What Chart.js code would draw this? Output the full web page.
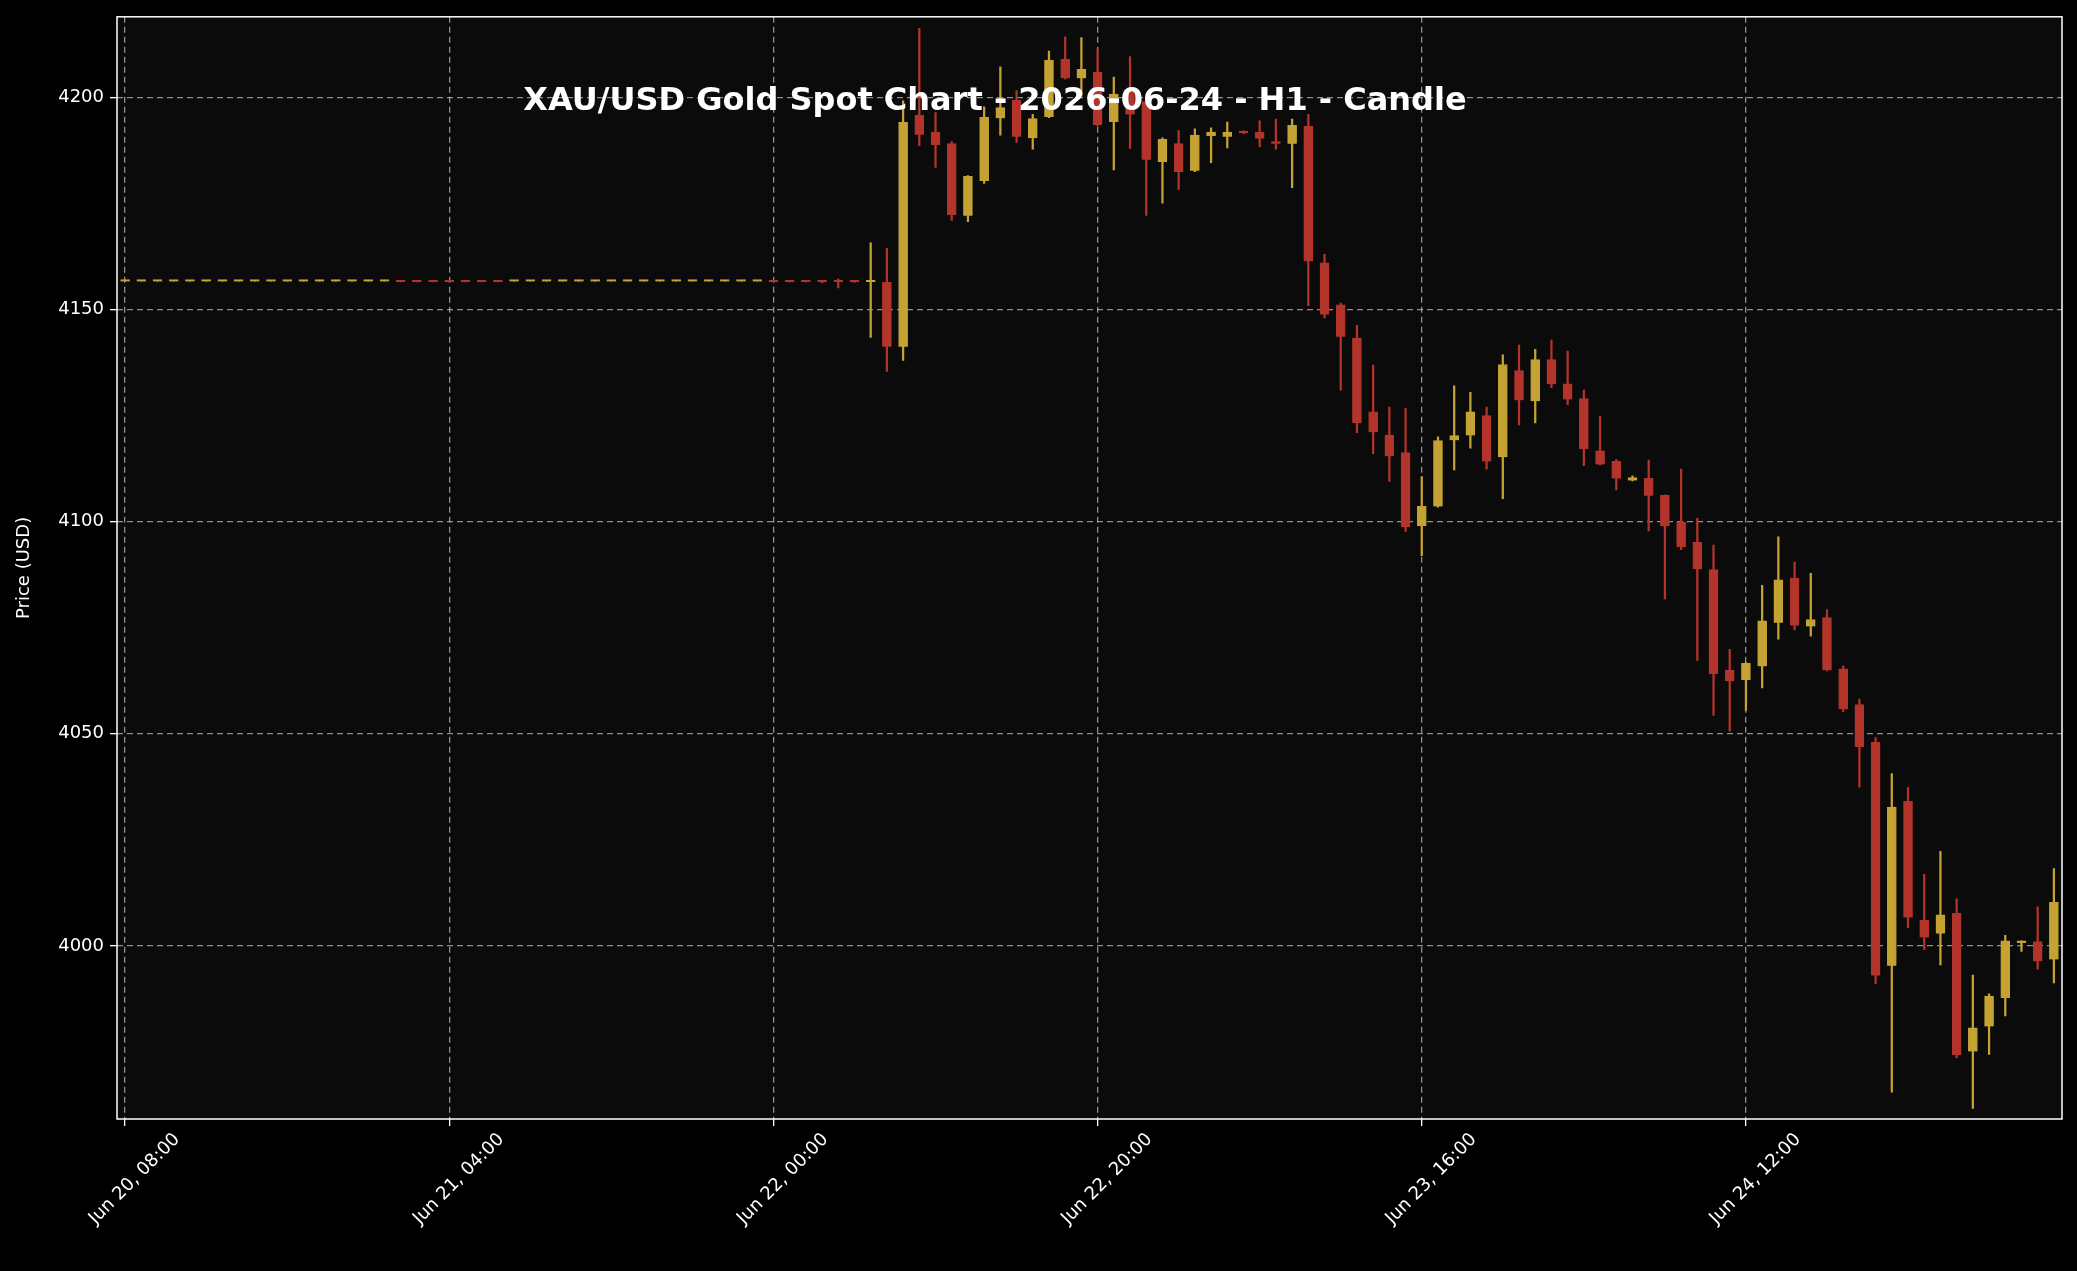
<!DOCTYPE html>
<html><head><meta charset="utf-8">
<script src="https://cdn.jsdelivr.net/npm/chart.js@4.4.1/dist/chart.umd.min.js"></script>
<style>html,body{margin:0;padding:0;background:#000;}#wrap{width:2077px;height:1271px;}</style>
</head><body><div id="wrap"><canvas id="c"></canvas></div>
<script>
const TITLE = "XAU/USD Gold Spot Chart - 2026-06-24 - H1 - Candle";
const tickHours = [0, 20, 40, 60, 80, 100];
const tickLabels = ["Jun 20, 08:00", "Jun 21, 04:00", "Jun 22, 00:00", "Jun 22, 20:00", "Jun 23, 16:00", "Jun 24, 12:00"];
const priceTicks = [4000, 4050, 4100, 4150, 4200];
const hours = [0,1,2,3,4,5,6,7,8,9,10,11,12,13,14,15,16,17,18,19,20,21,22,23,24,25,26,27,28,29,30,31,32,33,34,35,36,37,38,39,40,41,42,43,44,45,46,47,48,49,50,51,52,53,54,55,56,57,58,59,60,61,62,63,64,65,66,67,68,69,70,71,72,73,74,75,76,77,78,79,80,81,82,83,84,85,86,87,88,89,90,91,92,93,94,95,96,97,98,99,100,101,102,103,104,105,106,107,108,109,110,111,112,113,114,115,116,117,118,119];
const open = [4156.6,4156.6,4156.6,4156.6,4156.6,4156.6,4156.6,4156.6,4156.6,4156.6,4156.6,4156.6,4156.6,4156.6,4156.6,4156.6,4156.6,4156.7,4156.7,4156.7,4156.7,4156.7,4156.7,4156.7,4156.6,4156.6,4156.6,4156.6,4156.6,4156.6,4156.6,4156.6,4156.6,4156.6,4156.6,4156.6,4156.6,4156.6,4156.6,4156.6,4156.7,4156.7,4156.7,4156.7,4156.7,4156.7,
4156.5,4156.4,4141.2,4195.8,4191.8,4189.1,4172.1,4180.3,4195.1,4199.3,4190.4,4195.4,4209,4204.5,4205.9,4194.2,4201.4,4199,4184.8,4189.1,4182.7,4190.9,4190.7,4192,4191.8,4189.6,4189.1,4193.2,4161,4151.1,4143.3,4125.9,4120.4,4116.3,4099,4103.6,4119.2,4120.3,4125,4115.2,4135.6,4128.4,4138.2,4132.5,4129,4116.7,4114.2,4109.7,4110.2,4106.2,4099.9,4095.1,4088.7,4065,4062.7,4065.9,4076.2,4086.7,4075.3,4077.4,4065.3,4056.9,4048,3995.4,4034.1,4006,4002.9,4007.7,3975.1,3981,3987.7,4000.7,4001,3996.8];
const high = [4156.6,4156.6,4156.6,4156.6,4156.6,4156.6,4156.6,4156.6,4156.6,4156.6,4156.6,4156.6,4156.6,4156.6,4156.6,4156.6,4156.6,4156.7,4156.7,4156.7,4156.7,4156.7,4156.7,4156.7,4156.6,4156.6,4156.6,4156.6,4156.6,4156.6,4156.6,4156.6,4156.6,4156.6,4156.6,4156.6,4156.6,4156.6,4156.6,4156.6,4156.7,4156.7,4156.7,4156.9,4157.2,4156.8,
4165.7,4164.4,4199.2,4216.3,4196.4,4189.6,4181.6,4197.8,4207.2,4201.6,4196,4210.9,4214.3,4214.1,4211.4,4204.8,4209.6,4199.3,4190.5,4192.2,4192.6,4192.8,4194.2,4192.1,4194.5,4194.9,4194.9,4196,4163,4151.5,4146.3,4136.9,4127,4126.7,4110.6,4120,4132,4130.5,4127,4139.3,4141.6,4140.6,4142.8,4140.2,4131,4124.9,4114.7,4110.8,4114.5,4106.3,4112.4,4100.8,4094.5,4069.9,4066.8,4085,4096.4,4090.5,4087.8,4079.3,4066,4058.2,4049.1,4040.6,4037.3,4016.9,4022.3,4011.1,3993.1,3988.7,4002.5,4001.2,4009.2,4018.2];
const low = [4156.6,4156.6,4156.6,4156.6,4156.6,4156.6,4156.6,4156.6,4156.6,4156.6,4156.6,4156.6,4156.6,4156.6,4156.6,4156.6,4156.6,4156.5,4156.5,4156.5,4156.5,4156.5,4156.5,4156.5,4156.6,4156.6,4156.6,4156.6,4156.6,4156.6,4156.6,4156.6,4156.6,4156.6,4156.6,4156.6,4156.6,4156.6,4156.6,4156.6,4156.5,4156.5,4156.5,4156.3,4155.1,4156.4,
4143.4,4135.4,4138,4188.6,4183.5,4171,4170.7,4179.7,4191.1,4189.4,4187.8,4195.2,4204.3,4200.6,4193.3,4182.9,4188,4172.2,4175.1,4178.3,4182.5,4184.6,4188.1,4191.4,4188.4,4187.8,4178.7,4150.9,4148,4131,4121,4116,4109.5,4097.7,4092,4103.4,4112.2,4117.3,4112.4,4105.4,4122.8,4123.3,4131.6,4127.6,4113.2,4113.4,4107.5,4109.6,4097.8,4081.8,4093.4,4067.3,4054.3,4050.6,4055.5,4060.8,4072.3,4074.5,4073,4064.8,4055.2,4037.4,3991.1,3965.5,4004.3,3999.1,3995.5,3973.6,3961.7,3974.4,3983.5,3998.7,3994.5,3991.3];
const close = [4156.6,4156.6,4156.6,4156.6,4156.6,4156.6,4156.6,4156.6,4156.6,4156.6,4156.6,4156.6,4156.6,4156.6,4156.6,4156.6,4156.6,4156.5,4156.5,4156.5,4156.5,4156.5,4156.5,4156.5,4156.6,4156.6,4156.6,4156.6,4156.6,4156.6,4156.6,4156.6,4156.6,4156.6,4156.6,4156.6,4156.6,4156.6,4156.6,4156.6,4156.5,4156.5,4156.5,4156.5,4156.5,4156.5,
4156.7,4141.2,4194.1,4191.2,4188.8,4172.3,4181.4,4195.3,4197.6,4190.7,4195,4208.8,4204.5,4206.6,4193.5,4200.8,4196,4185.3,4190.1,4182.4,4191.1,4191.8,4191.8,4191.6,4190.3,4189.1,4193.4,4161.4,4148.8,4143.6,4123.2,4121.1,4115.4,4098.7,4103.6,4119.1,4120.3,4125.9,4114.2,4137,4128.6,4138.2,4132.4,4128.8,4117.1,4113.5,4110.2,4110.4,4106.1,4098.9,4094,4088.8,4064.1,4062.4,4066.6,4076.6,4086.3,4075.5,4076.9,4065,4055.8,4046.9,3993,4032.7,4006.7,4002,4007.3,3974.3,3980.7,3988.2,4001.2,4001,3996.4,4010.3];

const UP = '#c4a334', DOWN = '#b2342a';
const cols = hours.map((h, i) => close[i] >= open[i] ? UP : DOWN);
const wickData = hours.map((h, i) => ({x: h, y: [low[i], high[i]]}));
const bodyData = hours.map((h, i) => ({x: h, y: [open[i], close[i]]}));

const framePlugin = {
  id: 'frame',
  beforeDraw(chart) {
    const {ctx, chartArea: a} = chart;
    ctx.save(); ctx.fillStyle = '#000'; ctx.fillRect(0, 0, chart.width, chart.height);
    ctx.fillStyle = '#0b0b0b'; ctx.fillRect(a.left, a.top, a.right - a.left, a.bottom - a.top); ctx.restore();
  },
  afterDraw(chart) {
    const {ctx, chartArea: a} = chart;
    ctx.save();
    ctx.strokeStyle = '#ffffff'; ctx.lineWidth = 1.5;
    ctx.strokeRect(a.left, a.top, a.right - a.left, a.bottom - a.top);
    ctx.fillStyle = '#ffffff';
    ctx.font = 'bold 32px "DejaVu Sans"';
    ctx.textAlign = 'center'; ctx.textBaseline = 'middle';
    ctx.fillText(TITLE, 995, 102);
    ctx.restore();
  }
};

new Chart(document.getElementById('c'), {
  type: 'bar',
  data: { datasets: [
    { data: wickData, backgroundColor: cols, barThickness: 1.6, grouped: false, order: 2 },
    { data: bodyData, backgroundColor: cols, borderColor: cols, borderWidth: 0.8, barThickness: 9, minBarLength: 2, grouped: false, order: 1 }
  ]},
  options: {
    responsive: true, maintainAspectRatio: false, animation: false,
    devicePixelRatio: 1,
    layout: { padding: { top: 15, right: 15, left: 10, bottom: 0 } },
    plugins: { legend: { display: false }, tooltip: { enabled: false } },
    scales: {
      x: {
        type: 'linear', min: -0.5, max: 119.5, offset: false,
        afterBuildTicks: s => { s.ticks = tickHours.map(v => ({value: v})); },
        afterFit: s => { s.height = 152; },
        ticks: { color: '#ffffff', font: { size: 18, family: 'DejaVu Sans' }, maxRotation: 45, minRotation: 45, autoSkip: false, labelOffset: 52,
          callback: (v) => { const i = tickHours.indexOf(v); return i >= 0 ? tickLabels[i] : ''; } },
        grid: { offset: false, color: 'rgba(200,200,200,0.7)', lineWidth: 1.3, tickColor: '#ffffff', tickLength: 7, drawOnChartArea: true },
        border: { display: false, dash: [6, 4] }
      },
      y: {
        min: 3959.2, max: 4219,
        afterBuildTicks: s => { s.ticks = priceTicks.map(v => ({value: v})); },
        afterFit: s => { s.width = 107; },
        ticks: { color: '#ffffff', font: { size: 18, family: 'DejaVu Sans' }, padding: 6, callback: v => String(v) },
        title: { display: true, text: 'Price (USD)', color: '#ffffff', font: { size: 18, family: 'DejaVu Sans' } },
        grid: { offset: false, color: 'rgba(200,200,200,0.7)', lineWidth: 1.3, tickColor: '#ffffff', tickLength: 7 },
        border: { display: false, dash: [6, 4] }
      }
    }
  },
  plugins: [framePlugin]
});
</script></body></html>
